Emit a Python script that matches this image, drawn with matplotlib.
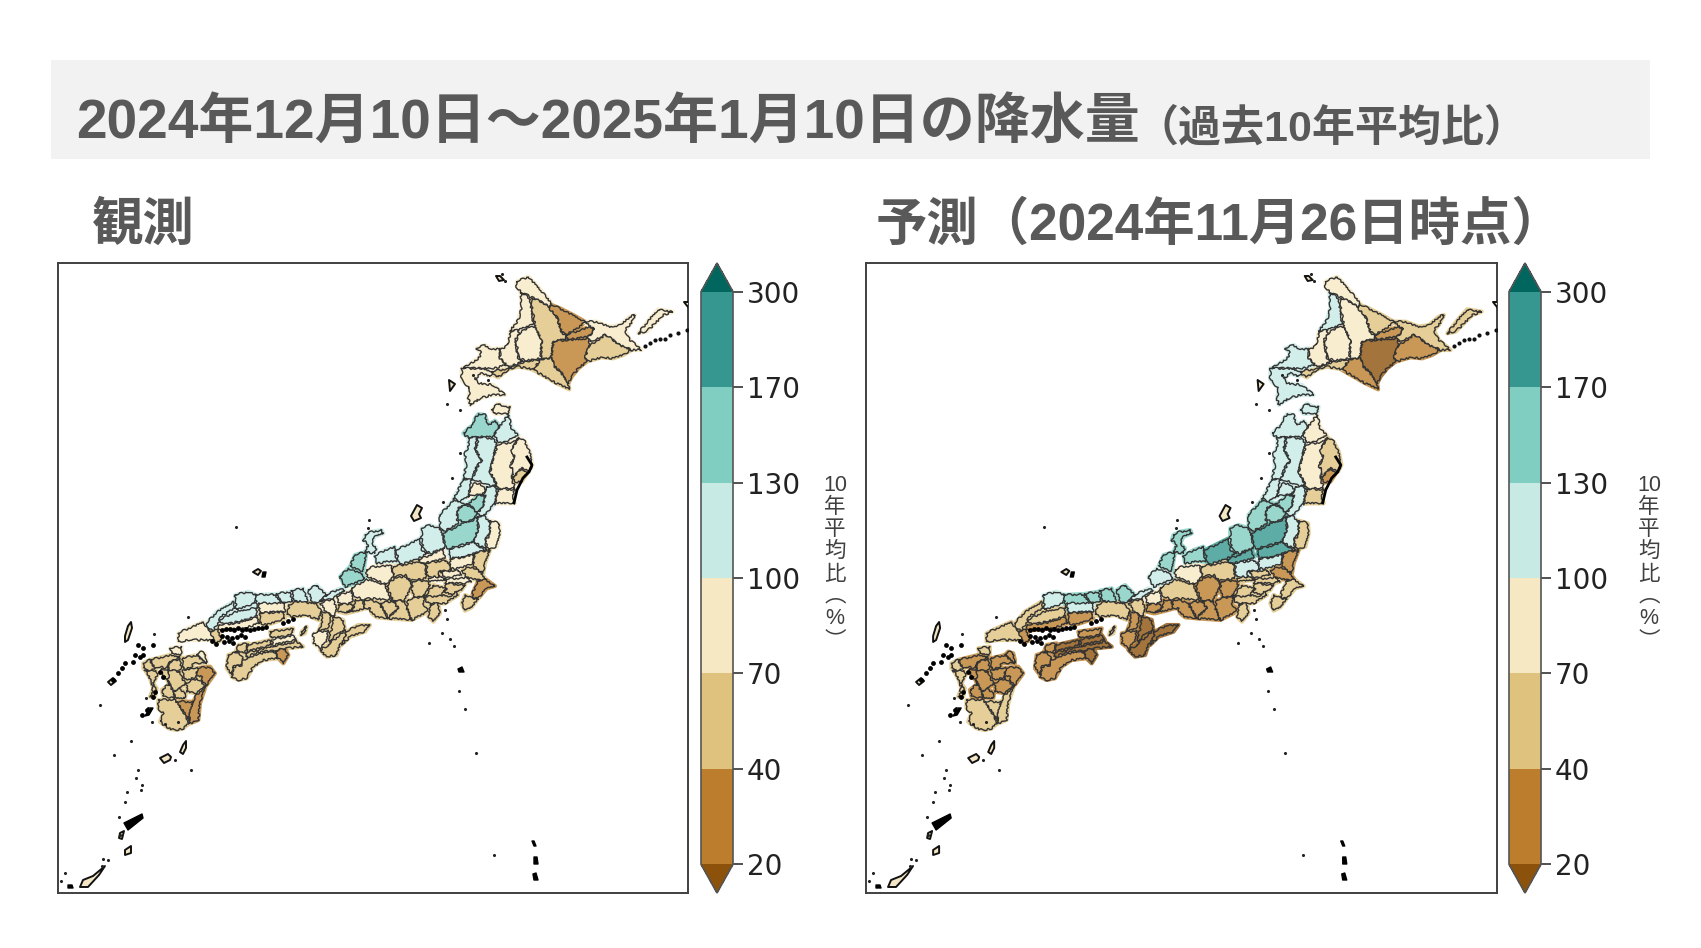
import matplotlib
matplotlib.use("Agg")
import matplotlib.pyplot as plt
from matplotlib.collections import PolyCollection
from matplotlib.colors import BoundaryNorm, ListedColormap
from matplotlib.cm import ScalarMappable
from matplotlib.patches import Rectangle

plt.rcParams["font.family"] = ["Liberation Sans", "Noto Sans CJK JP", "DejaVu Sans"]

W, H = 1701, 948

# ======================================================
# TEXT AND COLOUR SCALE
# ======================================================
title_main = "2024年12月10日～2025年1月10日の降水量"
title_sub = "（過去10年平均比）"
label_obs = "観測"
label_fcst = "予測（2024年11月26日時点）"
cbar_label = "10\n年\n平\n均\n比\n︵\n%\n︶"

levels = [20, 40, 70, 100, 130, 170, 300]
level_colors = ["#bc7e2c", "#dfc27d", "#f6e8c3", "#c7eae5", "#80cdc1", "#35978f"]
under_color = "#8c510a"
over_color = "#01665e"

# ======================================================
# REGION OUTLINES (px inside a crop)
# ======================================================
hokkaido = {
    "soya": [(200,35),(235,20),(262,48),(285,75),(305,100),(300,112),(275,95),(245,82),(212,66),(200,50)],
    "rumoi": [(212,68),(240,85),(245,120),(250,160),(235,170),(205,180),(180,183),(205,150),(215,110)],
    "kamikawa": [(245,85),(275,95),(300,112),(320,140),(335,185),(350,205),(310,215),(305,260),(272,268),(275,210),(255,170),(248,120)],
    "okhotsk_w": [(305,105),(330,115),(370,135),(405,155),(385,175),(350,192),(335,185),(320,140),(300,118)],
    "okhotsk_m": [(350,195),(395,178),(420,170),(435,178),(415,200),(385,205),(352,208)],
    "tokachi": [(310,215),(350,210),(415,205),(420,225),(405,260),(410,275),(385,295),(365,320),(355,340),(335,310),(310,285),(305,260)],
    "okhotsk_e": [(405,155),(440,155),(480,170),(510,165),(540,140),(555,135),(540,165),(525,180),(540,210),(575,240),(545,240),(510,225),(490,210),(465,195),(420,215),(415,200),(435,178),(420,170)],
    "kushiro": [(465,195),(490,210),(510,225),(545,240),(520,255),(490,265),(455,262),(410,275),(405,260),(420,225),(440,212)],
    "hidaka": [(305,262),(310,285),(335,310),(355,340),(358,358),(320,340),(250,300),(272,270)],
    "iburi": [(125,305),(175,295),(205,280),(260,268),(270,270),(250,298),(205,290),(175,298),(145,322),(130,315)],
    "shiribeshi": [(80,235),(105,225),(125,238),(150,235),(150,265),(170,285),(130,295),(95,295),(40,295),(55,285),(85,265),(95,250)],
    "ishikari": [(180,185),(205,180),(210,195),(195,210),(205,265),(220,275),(205,280),(175,290),(150,265),(150,240),(175,225)],
    "sorachi": [(205,195),(235,170),(255,170),(275,210),(272,265),(225,272),(205,262),(200,215)],
    "oshima": [(35,295),(95,295),(130,305),(120,320),(95,310),(75,325),(85,340),(130,345),(165,375),(125,375),(90,385),(60,405),(55,385),(60,355),(35,330)],
    "kunashiri": [(565,190),(600,145),(625,118),(668,125),(640,135),(610,165),(590,185)],
}
tohoku = {
    "tsugaru": [(115,42),(135,45),(145,75),(165,62),(180,78),(165,100),(160,112),(115,110),(85,113),(70,100),(85,85),(100,75),(105,55)],
    "shimokita": [(155,30),(175,10),(195,20),(210,20),(205,45),(190,40),(165,42)],
    "aomori_e": [(205,45),(215,85),(235,105),(220,115),(185,130),(170,125),(165,100),(180,78)],
    "akita_n": [(85,113),(112,113),(105,150),(125,180),(110,200),(95,240),(70,235),(78,200),(75,160),(85,145)],
    "iwate_w": [(115,112),(160,115),(170,130),(160,175),(150,215),(170,260),(140,255),(110,240),(95,240),(110,205),(125,180),(108,150)],
    "iwate_e": [(172,135),(220,125),(235,115),(215,150),(225,175),(210,195),(220,215),(215,235),(225,265),(175,265),(150,215),(160,175)],
    "iwate_coast": [(235,112),(255,125),(270,155),(278,195),(268,215),(245,205),(225,225),(215,235),(220,215),(210,195),(225,175),(215,150)],
    "iwate_s": [(245,205),(260,222),(245,245),(225,248),(218,232)],
    "miyagi": [(175,268),(225,268),(218,290),(225,310),(180,310),(165,312)],
    "akita_s": [(70,238),(95,240),(90,265),(85,290),(60,305),(40,295),(55,270)],
    "shinjo": [(90,265),(105,250),(120,250),(140,270),(125,285),(100,285),(85,290)],
    "yamagata_n": [(100,300),(120,285),(135,285),(130,320),(112,340),(95,320),(80,312)],
    "sendai_w": [(140,260),(172,262),(165,310),(135,345),(120,350),(112,340),(130,320),(135,285),(125,285),(140,270)],
    "yamagata_s": [(55,325),(80,315),(95,320),(112,340),(100,360),(70,368),(50,355)],
    "niigata_n": [(0,345),(40,300),(60,305),(80,312),(55,325),(50,355),(55,370),(30,385),(10,395),(0,385)],
    "nakadori": [(112,350),(135,350),(150,365),(150,400),(135,420),(140,450),(110,430),(100,425),(115,385)],
    "hamadori": [(150,362),(178,370),(180,400),(170,440),(145,450),(135,425),(150,405)],
    "aizu": [(10,400),(40,385),(70,368),(100,360),(112,350),(115,385),(100,425),(50,440),(20,445),(10,420)],
    "tochigi_n": [(30,448),(75,435),(100,425),(135,452),(105,460),(65,472),(35,475),(25,465)],
    "ibaraki_n": [(105,460),(135,452),(150,450),(135,490),(130,520),(110,510),(100,490)],
    "tochigi_s": [(30,478),(65,472),(102,462),(100,490),(60,505),(30,505)],
}
chubu = {
    "toyama": [(135,108),(165,90),(195,80),(200,125),(175,125),(140,130)],
    "joetsu": [(200,90),(270,55),(275,90),(295,100),(265,115),(210,135),(205,125)],
    "chuetsu": [(275,25),(300,15),(330,25),(340,50),(345,85),(300,100),(280,85),(275,60)],
    "gunma_n": [(265,120),(300,105),(340,85),(345,115),(310,125),(270,130)],
    "ibaraki_s": [(395,152),(425,140),(445,150),(470,180),(445,180),(415,175)],
    "chiba_n": [(445,182),(470,180),(495,198),(470,205),(445,235),(425,235),(430,215)],
    "chiba_s": [(405,225),(425,235),(445,235),(425,262),(405,272),(395,250)],
    "kanto_a": [(330,155),(385,150),(395,165),(345,175)],
    "kanto_b": [(295,175),(335,168),(345,180),(300,185)],
    "kanto_c": [(345,178),(410,172),(425,185),(405,190),(350,190)],
    "gunma_s": [(290,130),(345,120),(360,135),(365,150),(325,155),(330,170),(295,170),(290,160)],
    "nagano_n": [(190,140),(265,125),(285,130),(290,175),(250,180),(240,180),(225,165),(190,170)],
    "hida": [(110,150),(130,140),(185,135),(190,170),(170,195),(140,180),(110,170)],
    "mino": [(65,205),(110,178),(140,185),(165,195),(185,240),(120,235),(100,240),(70,225)],
    "nagano_s": [(170,200),(195,172),(225,170),(245,185),(240,210),(225,240),(190,243)],
    "yamanashi": [(248,185),(290,180),(300,195),(285,225),(255,235),(245,215)],
    "chichibu": [(290,225),(310,195),(350,205),(335,225),(300,240)],
    "saitama": [(345,190),(405,195),(395,210),(365,225),(340,215),(350,205)],
    "kanagawa": [(280,232),(340,225),(360,230),(375,215),(385,225),(345,250),(295,250)],
    "izu": [(300,255),(325,250),(330,280),(310,305),(295,290)],
    "shizuoka_e": [(235,240),(255,235),(285,225),(280,255),(295,265),(285,280),(245,300),(230,260)],
    "shizuoka_w": [(190,243),(225,243),(230,262),(245,300),(175,295),(205,265)],
    "aichi_e": [(150,250),(190,243),(205,265),(175,293),(160,270)],
    "aichi_w": [(105,240),(145,245),(160,270),(175,295),(140,292),(125,280),(120,265),(100,265)],
    "noto": [(105,45),(125,35),(155,30),(160,40),(135,50),(125,70),(140,85),(135,100),(105,95),(115,75),(100,60)],
    "ishikawa": [(75,105),(110,95),(105,125),(100,155),(60,140)],
    "fukui": [(30,170),(55,145),(95,160),(105,175),(75,190),(45,200)],
}
west = {
    "shimane_e": [(195,45),(235,35),(260,45),(255,70),(200,90)],
    "shimane_w": [(255,45),(310,42),(340,70),(262,82)],
    "tottori_w": [(318,42),(360,35),(368,65),(345,70),(330,60)],
    "tottori_e": [(365,32),(400,25),(415,65),(395,72),(370,60)],
    "hyogo_n": [(415,30),(440,15),(470,45),(450,65),(425,70)],
    "kyoto_n": [(470,45),(510,25),(525,30),(490,55),(470,60),(450,65)],
    "yamaguchi_n": [(110,130),(140,95),(190,65),(195,85),(150,110),(145,130),(130,150),(115,150)],
    "hiroshima_n": [(150,120),(195,95),(260,82),(262,108),(205,125),(160,135)],
    "hiroshima_s": [(150,135),(205,128),(262,110),(268,130),(220,145),(165,150),(145,150)],
    "yamaguchi_s": [(25,160),(55,145),(100,125),(115,150),(130,155),(145,185),(125,180),(60,180),(25,185)],
    "yamaguchi_e": [(120,155),(145,150),(155,180),(135,190)],
    "okayama_n": [(265,70),(345,68),(345,95),(270,98)],
    "okayama_s": [(270,100),(340,95),(345,115),(320,125),(290,135),(272,130)],
    "hyogo_s": [(358,75),(390,62),(415,68),(440,70),(455,95),(445,120),(410,105),(370,110),(350,105)],
    "kyoto_s": [(452,70),(490,55),(500,85),(495,110),(465,95)],
    "shiga": [(500,50),(545,30),(550,65),(530,75),(505,70)],
    "shiga_s": [(505,75),(545,70),(550,85),(525,100),(505,95)],
    "mie_n": [(555,60),(580,65),(585,85),(570,90),(530,100),(550,85)],
    "wakayama": [(430,160),(475,150),(470,185),(450,205),(430,190)],
    "osaka": [(455,95),(485,105),(480,125),(475,145),(445,155),(455,130)],
    "nara_n": [(490,110),(520,120),(525,150),(490,170),(480,190),(475,175),(485,150)],
    "nara_s": [(475,195),(525,150),(530,170),(510,195),(500,225),(470,230),(450,210)],
    "mie_s": [(530,155),(565,135),(600,135),(585,155),(540,170),(515,195)],
    "kagawa": [(300,155),(335,150),(370,145),(365,165),(305,175)],
    "tokushima": [(305,180),(370,165),(380,180),(310,195)],
    "ehime_e": [(235,195),(300,180),(305,195),(230,215)],
    "kochi_e": [(225,220),(300,200),(380,185),(400,200),(350,205),(315,210),(250,220),(235,235)],
    "muroto": [(315,215),(345,205),(355,225),(340,250),(325,235)],
    "ehime_w": [(175,225),(205,215),(220,235),(215,255),(190,260),(185,285),(170,265)],
    "ehime_n": [(205,195),(235,190),(225,218),(205,215),(195,220)],
    "kochi_w": [(220,240),(240,235),(250,225),(310,212),(325,235),(280,240),(250,260),(230,295),(205,300),(185,290),(190,262),(215,255)],
    "awaji": [(395,155),(410,140),(405,160),(392,165)],
}
kyushu = {
    "buzen": [(210,25),(245,20),(245,45),(215,42)],
    "fukuoka": [(150,60),(210,45),(240,50),(205,70),(205,85),(180,80),(165,85)],
    "chikugo": [(205,70),(240,55),(245,85),(235,95),(205,90)],
    "oita_n": [(248,55),(290,45),(320,70),(280,70),(275,85),(250,85)],
    "kunisaki": [(290,45),(300,35),(315,40),(320,60),(320,70)],
    "miyazaki_n": [(290,85),(330,80),(345,100),(320,135),(305,125),(305,110),(290,110)],
    "miyazaki_s": [(280,185),(290,165),(318,135),(300,190),(295,240),(270,250),(265,210)],
    "oita_s": [(275,85),(292,85),(290,112),(262,120),(250,115),(248,90)],
    "aso": [(205,90),(240,95),(250,120),(260,130),(240,145),(220,155),(205,125)],
    "takachiho": [(260,130),(290,115),(305,125),(315,140),(290,160),(260,155)],
    "kuma": [(220,155),(240,148),(258,158),(255,175),(225,175)],
    "osumi": [(230,185),(280,185),(270,215),(268,245),(250,215)],
    "satsuma": [(175,180),(225,178),(250,215),(268,250),(250,265),(230,270),(205,265),(180,245),(190,220),(175,205)],
    "saga": [(130,70),(150,60),(165,85),(150,95),(130,85)],
    "nagasaki": [(135,90),(150,95),(165,90),(175,100),(160,130),(170,145),(165,170),(150,170),(160,145),(150,115)],
    "kumamoto": [(205,90),(205,125),(220,155),(225,175),(190,170),(185,150),(210,130),(185,100),(185,85)],
}
# crop origin of each group above, reference pixels
crop_origin = {"hokkaido": (450, 270), "tohoku": (440, 400), "chubu": (330, 520), "west": (170, 580), "kyushu": (100, 640)}

# ======================================================
# VALUES PER REGION (10 yr ratio %)
# ======================================================
obs_values = {
    "soya": 85, "rumoi": 85, "kamikawa": 60, "okhotsk_w": 35, "okhotsk_m": 35, "tokachi": 35, "okhotsk_e": 85,
    "kushiro": 60, "hidaka": 60, "iburi": 60, "shiribeshi": 85, "ishikari": 85, "sorachi": 85, "oshima": 85, "kunashiri": 85,
    "tsugaru": 150, "shimokita": 85, "aomori_e": 115, "akita_n": 115, "iwate_w": 115, "iwate_e": 85, "iwate_coast": 85,
    "iwate_s": 60, "miyagi": 85, "akita_s": 115, "shinjo": 85, "yamagata_n": 150, "sendai_w": 115, "yamagata_s": 150,
    "niigata_n": 115, "nakadori": 115, "hamadori": 85, "aizu": 150, "tochigi_n": 115, "ibaraki_n": 60, "tochigi_s": 85,
    "toyama": 115, "joetsu": 115, "chuetsu": 115, "gunma_n": 85, "ibaraki_s": 60, "chiba_n": 35, "chiba_s": 60,
    "kanto_a": 85, "kanto_b": 85, "kanto_c": 85, "gunma_s": 60, "nagano_n": 60, "hida": 85, "mino": 85, "nagano_s": 60,
    "yamanashi": 60, "chichibu": 60, "saitama": 60, "kanagawa": 60, "izu": 60, "shizuoka_e": 60, "shizuoka_w": 60,
    "aichi_e": 60, "aichi_w": 60, "noto": 115, "ishikawa": 150, "fukui": 150,
    "shimane_e": 115, "shimane_w": 115, "tottori_w": 115, "tottori_e": 115, "hyogo_n": 115, "kyoto_n": 115,
    "yamaguchi_n": 115, "hiroshima_n": 115, "hiroshima_s": 85, "yamaguchi_s": 85, "yamaguchi_e": 60, "okayama_n": 85,
    "okayama_s": 60, "hyogo_s": 60, "kyoto_s": 85, "shiga": 85, "shiga_s": 60, "mie_n": 60, "wakayama": 85, "osaka": 60,
    "nara_n": 60, "nara_s": 60, "mie_s": 60, "kagawa": 60, "tokushima": 85, "ehime_e": 60, "kochi_e": 60, "muroto": 35,
    "ehime_w": 60, "ehime_n": 60, "kochi_w": 60, "awaji": 60,
    "buzen": 85, "fukuoka": 60, "chikugo": 60, "oita_n": 60, "kunisaki": 85, "miyazaki_n": 35, "miyazaki_s": 35,
    "oita_s": 60, "aso": 60, "takachiho": 60, "kuma": 60, "osumi": 35, "satsuma": 60, "saga": 60, "nagasaki": 60, "kumamoto": 60,
}
fcst_values = {
    "soya": 85, "rumoi": 115, "kamikawa": 85, "okhotsk_w": 60, "okhotsk_m": 35, "tokachi": 15, "okhotsk_e": 60,
    "kushiro": 35, "hidaka": 35, "iburi": 60, "shiribeshi": 115, "ishikari": 85, "sorachi": 85, "oshima": 115, "kunashiri": 60,
    "tsugaru": 115, "shimokita": 115, "aomori_e": 85, "akita_n": 115, "iwate_w": 115, "iwate_e": 85, "iwate_coast": 60,
    "iwate_s": 35, "miyagi": 60, "akita_s": 115, "shinjo": 115, "yamagata_n": 150, "sendai_w": 115, "yamagata_s": 150,
    "niigata_n": 150, "nakadori": 115, "hamadori": 60, "aizu": 200, "tochigi_n": 200, "ibaraki_n": 35, "tochigi_s": 115,
    "toyama": 150, "joetsu": 200, "chuetsu": 150, "gunma_n": 200, "ibaraki_s": 35, "chiba_n": 60, "chiba_s": 60,
    "kanto_a": 60, "kanto_b": 60, "kanto_c": 60, "gunma_s": 115, "nagano_n": 60, "hida": 85, "mino": 60, "nagano_s": 35,
    "yamanashi": 35, "chichibu": 60, "saitama": 60, "kanagawa": 60, "izu": 60, "shizuoka_e": 35, "shizuoka_w": 35,
    "aichi_e": 30, "aichi_w": 25, "noto": 150, "ishikawa": 150, "fukui": 115,
    "shimane_e": 115, "shimane_w": 150, "tottori_w": 150, "tottori_e": 150, "hyogo_n": 150, "kyoto_n": 115,
    "yamaguchi_n": 60, "hiroshima_n": 60, "hiroshima_s": 35, "yamaguchi_s": 60, "yamaguchi_e": 35, "okayama_n": 115,
    "okayama_s": 35, "hyogo_s": 60, "kyoto_s": 60, "shiga": 85, "shiga_s": 35, "mie_n": 35, "wakayama": 25, "osaka": 25,
    "nara_n": 18, "nara_s": 18, "mie_s": 18, "kagawa": 25, "tokushima": 18, "ehime_e": 18, "kochi_e": 18, "muroto": 18,
    "ehime_w": 35, "ehime_n": 35, "kochi_w": 25, "awaji": 60,
    "buzen": 60, "fukuoka": 35, "chikugo": 35, "oita_n": 25, "kunisaki": 35, "miyazaki_n": 35, "miyazaki_s": 60,
    "oita_s": 25, "aso": 35, "takachiho": 35, "kuma": 35, "osumi": 60, "satsuma": 60, "saga": 60, "nagasaki": 60, "kumamoto": 35,
}

# ======================================================
# SMALL ISLANDS (reference pixels of the left panel)
# ======================================================
black_blobs = [
    [(124,823),(142,814),(143,818),(128,830)],
    [(532,841),(534,841),(536,846),(534,846)],
    [(534,857),(537,857),(538,864),(534,864)],
    [(533,874),(536,873),(538,880),(534,880)],
    [(68,885),(72,885),(73,888),(68,888)],
    [(458,669),(462,667),(464,672),(459,672)],
    [(263,572),(266,572),(265,577),(262,577)],
    [(145,716),(150,708),(153,708),(149,715)],
]
ring_islands = [
    [(160,758),(168,754),(171,757),(170,760),(164,763)],
    [(183,745),(186,741),(186,748),(183,754),(180,752)],
    [(125,636),(128,626),(131,622),(132,628),(128,640),(125,642)],
    [(411,516),(417,505),(422,508),(419,514),(421,518),(414,521)],
    [(253,572),(258,569),(261,571),(258,575)],
    [(496,276),(500,276),(504,280),(499,281)],
    [(120,833),(124,831),(122,839),(119,838)],
    [(93,876),(105,866),(99,875),(88,887),(80,887),(83,880)],
    [(125,850),(131,846),(131,853),(125,855)],
    [(449,380),(455,384),(450,391)],
    [(684,302),(690,302),(688,307)],
    [(108,682),(113,678),(116,681),(111,685)],
]
dot_x = [447,442,450,454,429,459,465,476,494,369,368,447,460,460,452,443,100,188,154,146,148,152,165,178,114,175,191,138,136,142,141,127,125,119,120,65,61,108,103,131,102,473,488,445,236,502,505]
dot_y = [619,633,639,646,643,691,709,753,855,520,528,404,410,453,478,502,705,617,634,698,708,722,724,722,755,760,770,770,778,785,790,792,802,817,835,873,881,860,859,741,866,375,380,610,527,274,281]
kuril_x = [645,650,655,660,665,670,678,687]
kuril_y = [346,343,340,339,339,335,333,330]
# inland sea and north west Kyushu, black specks
speck_x = [222,226,230,234,238,242,246,250,254,258,262,266,222,227,232,237,241,245,283,288,293,224,229,233,212,216,
           138,143,153,140,135,133,143,113,118,122,125,153,155,147,142,160,163]
speck_y = [630,629,629,630,628,630,629,630,629,628,628,627,636,637,638,637,635,637,623,621,619,642,641,643,641,644,
           645,648,645,657,655,662,655,680,673,668,663,697,692,710,715,672,677]
# heavy stretches of coast
sanriku_x = [527,532,529,523,517,514]
sanriku_y = [457,465,472,478,490,503]

# ======================================================
# LAYOUT HELPERS
# ======================================================
def px_rect(x0, y0, x1, y1):
    return [x0 / W, 1 - y1 / H, (x1 - x0) / W, (y1 - y0) / H]

def to_map(name, shape):
    ox, oy = crop_origin[name]
    return [(ox + x / 3, oy + y / 3) for x, y in shape]

cmap = ListedColormap(level_colors)
cmap.set_under(under_color)
cmap.set_over(over_color)
norm = BoundaryNorm(levels, len(level_colors))

groups = {"hokkaido": hokkaido, "tohoku": tohoku, "chubu": chubu, "west": west, "kyushu": kyushu}
region_names = []
region_polys = []
for group, shapes in groups.items():
    for key, shape in shapes.items():
        region_names.append(key)
        region_polys.append(to_map(group, shape))

# ======================================================
# FUNCTION TO DRAW ONE PANEL
# ======================================================
def plot_panel(fig, box, cbar_box, label_x, values):
    ax = fig.add_axes(px_rect(*box))
    ax.set_xlim(58, 688)
    ax.set_ylim(893, 263)
    ax.set_xticks([])
    ax.set_yticks([])
    for s in ax.spines.values():
        s.set_color("#404040")
        s.set_linewidth(1.4)

    # map colours are the scale at 80 % over white
    fills = cmap(norm([values[k] for k in region_names]))
    fills[:, :3] = 0.8 * fills[:, :3] + 0.2

    # first layer grows each region a bit so traced shapes close up
    ax.add_collection(PolyCollection(region_polys, facecolors=fills, edgecolors=fills, linewidths=3.0, zorder=2))
    top = PolyCollection(region_polys, facecolors=fills, edgecolors="#333333", linewidths=1.0, zorder=3)
    top.set_sketch_params(scale=1.0, length=7, randomness=5)
    ax.add_collection(top)

    ax.add_collection(PolyCollection(black_blobs, facecolors="black", edgecolors="black", linewidths=1.0, zorder=4))
    ax.add_collection(PolyCollection(ring_islands, facecolors="#f3e6c4", edgecolors="#111111", linewidths=1.4, zorder=4))
    ax.scatter(dot_x, dot_y, s=5, color="#222222", linewidths=0, zorder=4)
    ax.scatter(kuril_x, kuril_y, s=9, color="#111111", linewidths=0, zorder=4)
    ax.scatter(speck_x, speck_y, s=12, color="black", linewidths=0, zorder=4)
    ax.plot(sanriku_x, sanriku_y, color="black", linewidth=2.0, zorder=4)

    cax = fig.add_axes(px_rect(*cbar_box))
    cb = fig.colorbar(ScalarMappable(norm=norm, cmap=cmap), cax=cax, extend="both", extendfrac=0.05, spacing="uniform", ticks=levels)
    cb.ax.tick_params(length=7, width=1.2, labelsize=20, color="#333333", labelcolor="#222222", pad=3)
    for lab in cb.ax.get_yticklabels():
        lab.set_family("DejaVu Sans")
    cb.outline.set_edgecolor("#555555")
    cb.outline.set_linewidth(1.2)
    cb.ax.minorticks_off()

    fig.text(label_x / W, 1 - 563 / H, cbar_label, fontsize=15.5, color="#404040", ha="center", va="center", linespacing=1.08)

# ======================================================
# FIGURE
# ======================================================
fig = plt.figure(figsize=(W / 100, H / 100), dpi=100, facecolor="white")
fig.add_artist(Rectangle((51 / W, 1 - 159 / H), 1599 / W, 99 / H, transform=fig.transFigure, facecolor="#f2f2f2", edgecolor="none"))

title_color = "#595959"
fig.text(76 / W, 1 - 124 / H, title_main, fontsize=39.6, fontweight="bold", color=title_color, ha="left", va="center")
fig.text(1135 / W, 1 - 129 / H, title_sub, fontsize=31, fontweight="bold", color=title_color, ha="left", va="center")
fig.text(92 / W, 1 - 226 / H, label_obs, fontsize=37, fontweight="bold", color=title_color, ha="left", va="center")
fig.text(876 / W, 1 - 226 / H, label_fcst, fontsize=37, fontweight="bold", color=title_color, ha="left", va="center")

plot_panel(fig, (58, 263, 688, 893), (701, 263, 733, 893), 835, obs_values)
plot_panel(fig, (866, 263, 1497, 893), (1509, 263, 1541, 893), 1649, fcst_values)

fig.savefig("out.png", dpi=100)
